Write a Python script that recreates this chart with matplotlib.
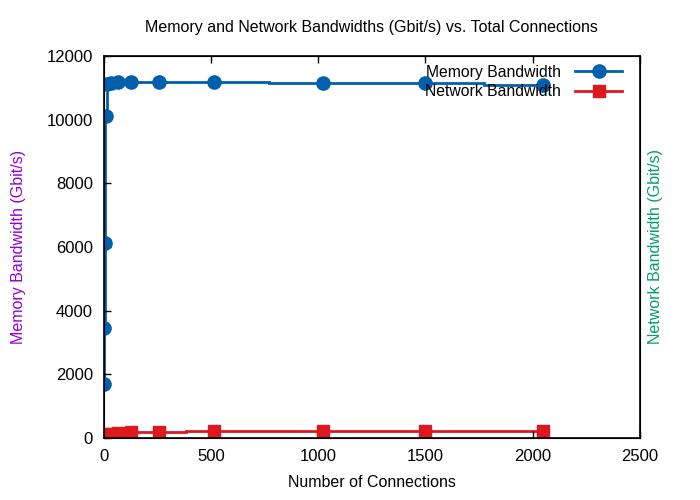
import numpy as np
import matplotlib
matplotlib.use("Agg")
import matplotlib.pyplot as plt

plt.rcParams['font.family'] = ['Liberation Sans', 'DejaVu Sans']

connections = [1, 2, 4, 8, 16, 32, 64, 128, 256, 512, 1024, 1500, 2048]
memory_bw = [1690, 3440, 6140, 10100, 11120, 11160, 11180, 11180, 11180, 11180, 11140, 11140, 11090]
network_bw = [20, 40, 70, 100, 120, 130, 150, 175, 180, 215, 215, 215, 215]

x_ticks = [0, 500, 1000, 1500, 2000, 2500]
y_ticks = [0, 2000, 4000, 6000, 8000, 10000, 12000]

blue = '#0060ad'
red = '#dd181f'


def hist_edges(x):
    x = np.asarray(x, dtype=float)
    mids = (x[:-1] + x[1:]) / 2
    return np.concatenate([[x[0]], mids, [x[-1]]])


fig = plt.figure(figsize=(7, 5), dpi=100)
ax = fig.add_axes([0.1486, 0.124, 0.7654, 0.764])

edges = hist_edges(connections)
ax.stairs(memory_bw, edges, baseline=None, color=blue, linewidth=2)
ax.stairs(network_bw, edges, baseline=None, color=red, linewidth=2)
ax.plot(connections, memory_bw, linestyle='none', marker='o', markersize=9.5, color=blue)
ax.plot(connections, network_bw, linestyle='none', marker='s', markersize=9, color=red)

# legend proxies
h1, = ax.plot([], [], color=blue, linewidth=2, marker='o', markersize=9.5, label='Memory Bandwidth')
h2, = ax.plot([], [], color=red, linewidth=2, marker='s', markersize=9, label='Network Bandwidth')
leg = ax.legend(handles=[h1, h2], loc='upper right', frameon=False, markerfirst=False,
                fontsize=11.3, handlelength=3.0, labelspacing=0.3, borderaxespad=0.2,
                handletextpad=0.9, bbox_to_anchor=(0.985, 1.002))

ax.set_xlim(0, 2500)
ax.set_ylim(0, 12000)
ax.set_xticks(x_ticks)
ax.set_yticks(y_ticks)
ax.tick_params(direction='in', length=5, width=1, top=True, right=True, labelsize=12, pad=8)
for s in ax.spines.values():
    s.set_linewidth(1.2)

ax.set_title('Memory and Network Bandwidths (Gbit/s) vs. Total Connections', fontsize=11.5, pad=17)
ax.set_xlabel('Number of Connections', fontsize=11.5, labelpad=8)
ax.set_ylabel('Memory Bandwidth (Gbit/s)', fontsize=11.5, color='#9400d3', labelpad=15)
ax2 = ax.twinx()
ax2.set_ylim(0, 12000)
ax2.set_yticks([])
ax2.set_ylabel('Network Bandwidth (Gbit/s)', fontsize=11.5, color='#009e73', labelpad=6)

fig.savefig('out.png', dpi=100)
